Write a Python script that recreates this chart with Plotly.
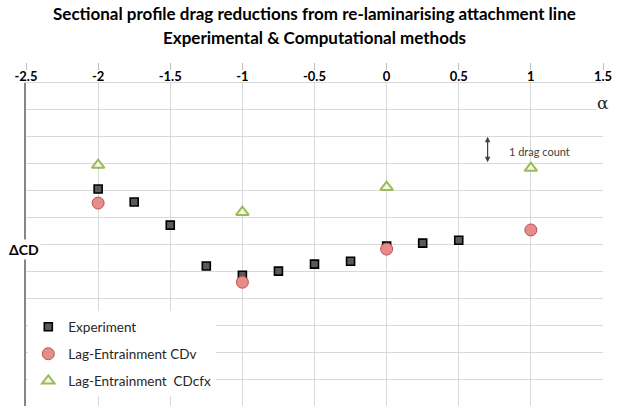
import plotly.graph_objects as go

# Angle of attack (deg) and change in sectional drag (drag counts)
alpha_exp = [-2.0, -1.75, -1.5, -1.25, -1.0, -0.75, -0.5, -0.25, 0.0, 0.25, 0.5]
dcd_exp = [-3.94, -4.42, -5.28, -6.80, -7.14, -6.99, -6.73, -6.62, -6.06, -5.95, -5.84]

alpha_le = [-2.0, -1.0, 0.0, 1.0]
dcd_cdv = [-4.46, -7.40, -6.17, -5.46]
dcd_cdfx = [-3.05, -4.80, -3.87, -3.16]

x_ticks = [-2.5, -2, -1.5, -1, -0.5, 0, 0.5, 1, 1.5]

title_lines = [
    "Sectional profile drag reductions from re-laminarising attachment line",
    "Experimental & Computational methods",
]

FONT = "Lato"

fig = go.Figure()

fig.add_trace(go.Scatter(
    x=alpha_exp, y=dcd_exp, mode="markers", name="Experiment",
    legendgroup="exp",
    marker=dict(symbol="square", size=8, color="#5a5a5a",
                line=dict(color="#000000", width=1.6)),
))
fig.add_trace(go.Scatter(
    x=alpha_le, y=dcd_cdv, mode="markers", name="Lag-Entrainment CDv",
    legendgroup="cdv",
    marker=dict(symbol="circle", size=12, color="#e48d8b",
                line=dict(color="#c0504d", width=1)),
))
fig.add_trace(go.Scatter(
    x=alpha_le, y=dcd_cdfx, mode="markers", name="Lag-Entrainment  CDcfx",
    legendgroup="cdfx",
    marker=dict(symbol="triangle-up", size=11, color="#f3f7ea",
                line=dict(color="#9bbb59", width=2)),
))
# empty trace so the secondary top axis (tick marks only) gets drawn
fig.add_trace(go.Scatter(
    x=[], y=[], xaxis="x2", mode="markers", showlegend=False, hoverinfo="skip",
))

fig.update_layout(
    width=619, height=410,
    margin=dict(l=26, r=16, t=70, b=4),
    paper_bgcolor="white", plot_bgcolor="white",
    font=dict(family=FONT, color="#000000"),
    xaxis=dict(
        range=[-2.5, 1.5], tickvals=x_ticks, ticktext=[f"{v:g}" for v in x_ticks],
        side="top", showgrid=True, gridcolor="#d9d9d9", gridwidth=1,
        showline=True, linecolor="#d9d9d9", linewidth=1,
        ticks="", zeroline=False, ticklabelstandoff=-4,
        tickfont=dict(family=FONT, size=13, color="#000000", weight="bold"),
    ),
    xaxis2=dict(
        overlaying="x", matches="x", side="top", anchor="free", position=1,
        showgrid=False, showline=False, showticklabels=False,
        ticks="outside", ticklen=7, tickcolor="#bfbfbf", tickvals=x_ticks,
        zeroline=False,
    ),
    yaxis=dict(
        range=[-12, 0], dtick=1, domain=[0, 0.9613],
        showticklabels=False, showgrid=True, gridcolor="#d9d9d9",
        showline=True, linecolor="#868686", linewidth=2,
        zeroline=False, ticks="",
    ),
    legend=dict(
        x=0.004, xanchor="left", y=0.155, yanchor="middle",
        bgcolor="white", borderwidth=0, tracegroupgap=6.5,
        font=dict(family=FONT, size=13.5, color="#262626"),
    ),
    showlegend=True,
)

# two-line chart title
for text, ypos in zip(title_lines, [1.1667, 1.0982]):
    fig.add_annotation(
        text=text, xref="paper", x=0.5, xanchor="center",
        yref="paper", y=ypos, yanchor="middle", showarrow=False,
        font=dict(family=FONT, size=17, color="#000000", weight="bold"),
    )

# axis titles drawn on a white patch over the axis lines
fig.add_annotation(
    text="ΔCD", xref="paper", x=-0.004, xanchor="center", yref="y", y=-6.2,
    showarrow=False, bgcolor="white", borderpad=1,
    font=dict(family=FONT, size=14, color="#000000", weight="bold"),
)
fig.add_annotation(
    text="α", xref="x", x=1.5, xanchor="center", yref="y", y=-0.74,
    showarrow=False, bgcolor="white", borderpad=0,
    font=dict(family="DejaVu Serif", size=17, color="#262626"),
)

# one-drag-count scale marker
fig.add_annotation(
    x=0.7, y=-2, ax=0.7, ay=-3, xref="x", yref="y", axref="x", ayref="y",
    text="", showarrow=True, arrowside="end+start",
    arrowhead=2, startarrowhead=2, arrowsize=0.9, startarrowsize=0.9,
    arrowwidth=1.2, arrowcolor="#404040",
)
fig.add_annotation(
    text="1 drag count", xref="x", x=1.063, yref="y", y=-2.55,
    showarrow=False, font=dict(family=FONT, size=11, color="#404040"),
)

fig.write_html("out.html")
